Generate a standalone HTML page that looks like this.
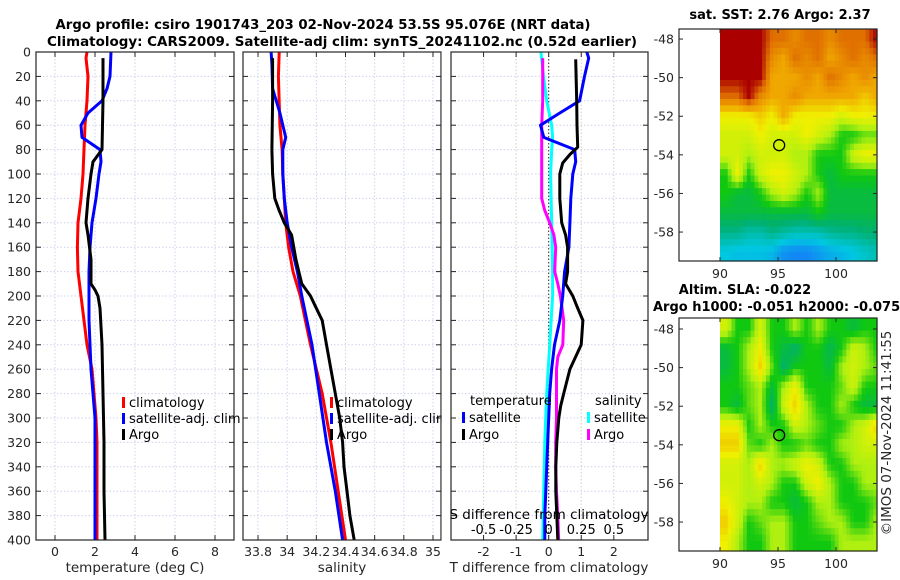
<!DOCTYPE html>
<html><head><meta charset="utf-8"><style>
body{margin:0;background:#fff}
svg{display:block;font-family:"DejaVu Sans","Liberation Sans",sans-serif}
</style></head><body>
<svg id="c" width="900" height="580" viewBox="0 0 900 580"></svg>
<script>
const depthTicks=[0,20,40,60,80,100,120,140,160,180,200,220,240,260,280,300,320,340,360,380,400];
// panel 1 temperature
const tClimD=[0,5,20,40,60,80,100,120,140,160,180,200,220,240,260,280,300,320,340,360,380,400];
const tClim=[1.6,1.55,1.65,1.6,1.5,1.45,1.4,1.3,1.15,1.12,1.15,1.3,1.45,1.6,1.85,1.95,2.05,2.1,2.1,2.1,2.1,2.1];
const tSatD=[0,20,30,40,50,60,70,80,90,100,120,140,160,180,200,220,240,260,280,300,320,340,360,380,400];
const tSat=[2.8,2.75,2.6,2.35,1.65,1.3,1.35,2.25,2.3,2.2,2.05,1.85,1.75,1.7,1.7,1.7,1.75,1.8,1.9,2.0,2.0,2.0,2.0,2.0,2.0];
const tArgoD=[5,40,80,90,100,120,140,150,170,190,195,200,210,240,280,320,360,400];
const tArgo=[2.4,2.4,2.35,1.9,1.8,1.65,1.55,1.65,1.8,1.8,2.0,2.15,2.25,2.35,2.4,2.45,2.45,2.5];
const tTicks=[0,2,4,6,8];
// panel 2 salinity
const sClimD=[0,20,60,80,100,120,140,160,180,200,240,280,320,360,400];
const sClim=[33.945,33.94,33.95,33.965,33.97,33.98,33.99,34.01,34.04,34.09,34.16,34.24,34.3,34.35,34.4];
const sSatD=[0,10,30,50,70,80,100,120,140,160,180,200,240,280,320,360,400];
const sSat=[33.89,33.895,33.9,33.95,33.99,33.97,33.97,33.98,34.0,34.03,34.07,34.1,34.17,34.22,34.27,34.33,34.38];
const sArgoD=[5,40,80,100,120,130,140,150,170,180,190,200,210,220,240,260,280,300,320,340,360,380,400];
const sArgo=[33.9,33.9,33.895,33.9,33.915,33.945,33.98,34.03,34.06,34.08,34.1,34.16,34.2,34.24,34.27,34.3,34.33,34.36,34.38,34.39,34.41,34.43,34.46];
const sTicks=[33.8,34,34.2,34.4,34.6,34.8,35];
const sTickLabels=["33.8","34","34.2","34.4","34.6","34.8","35"];
// panel 3 differences
const dTArgoD=[6,40,60,78,84,91,100,120,140,150,160,180,190,200,210,220,240,260,280,290,300,320,340,360,380,400];
const dTArgo=[0.83,0.86,0.87,0.89,0.65,0.43,0.34,0.34,0.4,0.52,0.58,0.58,0.52,0.74,0.89,1.05,1.0,0.65,0.46,0.37,0.31,0.25,0.22,0.22,0.25,0.28];
const dTSatD=[0,5,20,40,50,60,70,80,90,100,120,140,160,180,200,220,240,260,280,300,320,340,360,380,400];
const dTSat=[1.17,1.23,1.1,0.95,0.34,-0.25,-0.15,0.8,0.83,0.74,0.68,0.65,0.62,0.49,0.43,0.34,0.18,0.09,0.03,0,-0.03,-0.06,-0.09,-0.12,-0.12];
const dSArgoD=[5,40,60,100,120,130,140,150,160,180,190,200,220,240,250,260,280,300,320,340,360,380,400];
const dSArgo=[-0.046,-0.046,-0.054,-0.054,-0.054,-0.03,0.008,0.04,0.054,0.046,0.07,0.09,0.115,0.108,0.07,0.06,0.06,0.06,0.054,0.054,0.06,0.07,0.077];
const dSSatD=[0,20,40,60,70,80,100,140,180,200,240,280,300,320,360,400];
const dSSat=[-0.06,-0.04,-0.015,0.023,0.03,0.023,0.015,0.023,0.03,0.03,0.008,-0.015,-0.023,-0.03,-0.038,-0.046];
const dTTicks=[-2,-1,0,1,2];
const dSTicks=[-0.5,-0.25,0,0.25,0.5];
const dSTickLabels=["-0.5","-0.25","0","0.25","0.5"];
// maps (rows north->south, 1 deg lat centred -48..-59; cols 90..103E)
const sstGrid=[
[8,8,8,8,7,7,6.5,7,7,6.5,7,7,7,8],
[8,8,8,8,6.5,6,7,6.5,7,6,6.5,7,6.5,7],
[8,8,8,8,6,6,6,6.5,6,7,6.5,6,6.5,6],
[7,7,8,6.5,6,6,6.5,6,6,6,6,6,5.5,6],
[5,5,5,5.5,5,6,5,5,5,5,4.5,5,5,5],
[4.5,4.5,4.5,5,4.5,4.5,4.5,5,4.5,4,3,3,3.5,3.5],
[4.5,4.5,4,4.5,4.5,4.5,4,4,3,3,3,4.5,5,5],
[3,5,3,4.5,5,5,4.5,4,3,2.5,3,3,3,3],
[3,2.5,2.5,3,4,4.5,4,3,4,2.5,2.5,2.5,2.5,2.5],
[2.5,2.5,2.5,2.5,2.5,2.5,2.5,2.5,3,2.5,2.5,2.5,2.5,2.5],
[1.8,1.8,1.5,1.5,1.8,1.6,1.4,1.4,1.4,1.7,1.8,1.8,2,2],
[1,0.9,0.9,0.9,0.8,0.4,0.3,0.3,0.5,0.7,0.8,1,1.2,1.4]];
const slaGrid=[
[4.5,3,3,4.5,3,3,4,3,4,3,3,2.5,3,3],
[2.5,3,4,5,3,2.5,2,3,3,2.3,3,4.5,4,3],
[2.5,3,4,5.5,3.5,2,3,3,3,2.5,4,4.5,4,3.5],
[3,3,3.5,4,2.5,4,5,3,3,3,3.5,4.5,3,3],
[3,2.5,3.5,4,2,4.5,5.5,4,3,3,4,3,2.5,2.5],
[5,5,3,4,3,3,4.5,4,3.5,3,3,4,4.5,5.5],
[5.5,5.5,3.5,3,4,3,3,3.5,3,3,4,4,4.5,4.5],
[4.5,4.5,4,5.5,4,4,4.5,5,4.5,3,3,4,4,4],
[4.5,4.5,4,4.5,4,3,3,4.5,5,4,3,3,4,4],
[5,4.5,4,4,3,3,2.5,3,4,4,3,3,3,3.5],
[5.5,4.5,3,3.5,4,4,3,3,3.5,4,4,3,3,4],
[5,4,3,3,4,4,3,3,3,3,4,4,4,4]];
const mapLatTicks=[-48,-50,-52,-54,-56,-58];
const mapLonTicks=[90,95,100];
const argoLon=95.1, argoLat=-53.5;

const NS="http://www.w3.org/2000/svg";
const svg=document.getElementById('c');
function el(tag,at,parent){const e=document.createElementNS(NS,tag);for(const k in at)e.setAttribute(k,at[k]);(parent||svg).appendChild(e);return e;}
function txt(s,x,y,at,parent){const e=el('text',Object.assign({x:x,y:y,'font-size':12,fill:'#262626'},at||{}),parent);e.textContent=s;return e;}
const Y0=52,Y1=540;
const yD=d=>Y0+(Y1-Y0)*d/400;
const GRID='#cdd2ee';

function panel(name,L,R,xmin,xmax){
  const g=el('g',{});
  
  
  return {g,L,R,x:v=>L+(R-L)*(v-xmin)/(xmax-xmin)};
}
function frame(p,ticks,labels,gridColor,withDepthLabels){
  for(const d of depthTicks){
    const y=yD(d);
    const gl=el('line',{x1:p.L,x2:p.R,y1:y,y2:y,stroke:GRID,'stroke-width':1,'stroke-dasharray':'1.5,2'},p.g);
    
    el('line',{x1:p.L,x2:p.L+5,y1:y,y2:y,stroke:'#262626'},p.g);
    el('line',{x1:p.R-5,x2:p.R,y1:y,y2:y,stroke:'#262626'},p.g);
    if(withDepthLabels){const t=txt(String(d),31,y+4.5,{'text-anchor':'end','font-size':12.5},p.g);}
  }
  ticks.forEach((v,i)=>{
    const x=p.x(v);
    const gl=el('line',{x1:x,x2:x,y1:Y0,y2:Y1,stroke:gridColor,'stroke-width':1,'stroke-dasharray':'1.5,2'},p.g);
    
    el('line',{x1:x,x2:x,y1:Y1,y2:Y1-5,stroke:'#262626'},p.g);
    el('line',{x1:x,x2:x,y1:Y0,y2:Y0+5,stroke:'#262626'},p.g);
    const t=txt(labels[i],x,556,{'text-anchor':'middle','font-size':12.5},p.g);
    
  });
}
function box(p){const b=el('rect',{x:p.L,y:Y0,width:p.R-p.L,height:Y1-Y0,fill:'none',stroke:'#262626','stroke-width':1.2},p.g);}
function line(p,ds,vs,color,name,xf){
  const f=xf||p.x;
  const pts=ds.map((d,i)=>f(vs[i]).toFixed(1)+','+yD(d).toFixed(1)).join(' ');
  const e=el('polyline',{points:pts,fill:'none',stroke:color,'stroke-width':3,'stroke-linejoin':'round'},p.g);
  
}
function legendItem(p,x,y,color,label,name){
  const g=el('g',{},p.g);
  
  el('rect',{x:x,y:y-10,width:3,height:11,fill:color},g);
  txt(label,x+7,y,{'font-size':13,fill:'#000'},g);
}

let t=txt('Argo profile: csiro 1901743_203 02-Nov-2024 53.5S 95.076E (NRT data)',323,29,{'text-anchor':'middle','font-weight':'bold','font-size':13.5,fill:'#000',textLength:535,lengthAdjust:'spacingAndGlyphs'});

t=txt('Climatology: CARS2009. Satellite-adj clim: synTS_20241102.nc (0.52d earlier)',342,46,{'text-anchor':'middle','font-weight':'bold','font-size':13.5,fill:'#000',textLength:590,lengthAdjust:'spacingAndGlyphs'});


const p1=panel('temperature-panel',36,234,-0.95,8.95);
frame(p1,tTicks,tTicks.map(String),GRID,true);
line(p1,tClimD,tClim,'#ff0000','temperature-climatology-line');
line(p1,tSatD,tSat,'#0000ff','temperature-satellite-line');
line(p1,tArgoD,tArgo,'#000000','temperature-argo-line');
box(p1);
legendItem(p1,122,407,'#ff0000','climatology','legend-climatology');
legendItem(p1,122,423,'#0000ff','satellite-adj. clim','legend-satellite-adj-clim');
legendItem(p1,122,439,'#000000','Argo','legend-argo');
t=txt('temperature (deg C)',135,572,{'text-anchor':'middle','font-size':13.5});

const p2=panel('salinity-panel',243,441,33.697,35.055);
frame(p2,sTicks,sTickLabels,GRID,false);
line(p2,sClimD,sClim,'#ff0000','salinity-climatology-line');
line(p2,sSatD,sSat,'#0000ff','salinity-satellite-line');
line(p2,sArgoD,sArgo,'#000000','salinity-argo-line');
box(p2);
legendItem(p2,330,407,'#ff0000','climatology','legend-climatology');
legendItem(p2,330,423,'#0000ff','satellite-adj. clim','legend-satellite-adj-clim');
legendItem(p2,330,439,'#000000','Argo','legend-argo');
svg.appendChild(el('rect',{x:441.6,y:52,width:9,height:490,fill:'#fff'}));
t=txt('salinity',342,572,{'text-anchor':'middle','font-size':13.5});

const p3=panel('difference-panel',451,648,-3.0,3.05);
const xs=v=>p3.x(v*4);
frame(p3,dTTicks,dTTicks.map(String),'#dccbbb',false);
const zl=el('line',{x1:p3.x(0),x2:p3.x(0),y1:Y0,y2:Y1,stroke:'#333','stroke-width':1,'stroke-dasharray':'1.5,2'},p3.g);

line(p3,dSSatD,dSSat,'#00ffff','salinity-satellite-diff-line',xs);
line(p3,dSArgoD,dSArgo,'#ff00ff','salinity-argo-diff-line',xs);
line(p3,dTSatD,dTSat,'#0000ff','temperature-satellite-diff-line');
line(p3,dTArgoD,dTArgo,'#000000','temperature-argo-diff-line');
box(p3);
t=txt('temperature',470,405,{'font-size':13,fill:'#000'},p3.g);
t=txt('salinity',595,405,{'font-size':13,fill:'#000'},p3.g);
legendItem(p3,462,422,'#0000ff','satellite','legend-temperature-satellite');
legendItem(p3,462,439,'#000000','Argo','legend-temperature-argo');
legendItem(p3,587,422,'#00ffff','satellite','legend-salinity-satellite');
legendItem(p3,587,439,'#ff00ff','Argo','legend-salinity-argo');
t=txt('S difference from climatology',549,519,{'text-anchor':'middle','font-size':13.5,fill:'#000'},p3.g);
dSTicks.forEach((v,i)=>{const e=txt(dSTickLabels[i],xs(v),534,{'text-anchor':'middle','font-size':13,fill:'#000'},p3.g);});
t=txt('T difference from climatology',549,572,{'text-anchor':'middle','font-size':13.5});

// maps
const stops=[[0,[26,108,255]],[1,[0,200,224]],[2,[0,176,112]],[3,[16,200,16]],[4,[176,240,16]],[5,[240,240,0]],[6,[240,168,0]],[7,[224,112,0]],[8,[170,0,0]]];
function cmap(v){v=Math.max(0,Math.min(8,v));const i=Math.min(7,Math.floor(v));const f=v-i;const a=stops[i][1],b=stops[i+1][1];return 'rgb('+a.map((c,k)=>Math.round(c+(b[k]-c)*f)).join(',')+')';}
function sample(grid,lon,lat){
  let fc=lon-90.5, fr=-48-lat;
  const nr=grid.length,nc=grid[0].length;
  fc=Math.max(0,Math.min(nc-1,fc)); fr=Math.max(0,Math.min(nr-1,fr));
  const c0=Math.floor(fc),r0=Math.floor(fr),c1=Math.min(nc-1,c0+1),r1=Math.min(nr-1,r0+1);
  const a=fc-c0,b=fr-r0;
  return grid[r0][c0]*(1-a)*(1-b)+grid[r0][c1]*a*(1-b)+grid[r1][c0]*(1-a)*b+grid[r1][c1]*a*b;
}
function map(name,top,bottom,latTop,grid,title1,title2){
  const g=el('g',{});
  const L=679,R=877;
  const xl=lon=>720+(lon-90)*11.6;
  const ppd=(bottom-top)/(latTop+59.5);
  const yl=lat=>top+(latTop-lat)*ppd;
  const step=0.33;
  for(let lat=latTop;lat>-59.5;lat-=step){
    for(let lon=90;lon<103.6;lon+=step){
      const x0=xl(lon),x1=Math.min(R,xl(lon+step));
      const y0=yl(lat),y1=Math.min(bottom,yl(lat-step));
      const v=sample(grid,lon+step/2,lat-step/2);
      el('rect',{x:x0.toFixed(1),y:y0.toFixed(1),width:(x1-x0+0.6).toFixed(1),height:(y1-y0+0.6).toFixed(1),fill:cmap(v)},g);
    }
  }
  el('rect',{x:L,y:top,width:R-L,height:bottom-top,fill:'none',stroke:'#262626','stroke-width':1.2},g);
  mapLatTicks.forEach(lat=>{const y=yl(lat);el('line',{x1:L,x2:L+4,y1:y,y2:y,stroke:'#262626'},g);el('line',{x1:R-4,x2:R,y1:y,y2:y,stroke:'#262626'},g);
    const e=txt(String(lat),674,y+4.5,{'text-anchor':'end','font-size':12.5},g);});
  mapLonTicks.forEach(lon=>{const x=xl(lon);el('line',{x1:x,x2:x,y1:bottom,y2:bottom-4,stroke:'#262626'},g);el('line',{x1:x,x2:x,y1:top,y2:top+4,stroke:'#262626'},g);
    const e=txt(String(lon),x,bottom+17,{'text-anchor':'middle','font-size':12.5},g);});
  const m=el('circle',{cx:xl(argoLon),cy:yl(argoLat),r:5.5,fill:'none',stroke:'#000','stroke-width':1.3},g);
  
  let e=txt(title1,title2?745:780,title2?top-24:top-10,{'text-anchor':'middle','font-weight':'bold','font-size':13,fill:'#000'},g);
  if(title2){e=txt(title2,653,top-7,{'font-weight':'bold','font-size':13,fill:'#000'},g);}
}
map('sst-map',29,261,-47.48,sstGrid,'sat. SST: 2.76 Argo: 2.37',null);
map('sla-map',318,551,-47.43,slaGrid,'Altim. SLA: -0.022','Argo h1000: -0.051 h2000: -0.075');
t=txt('©IMOS 07-Nov-2024 11:41:55',0,0,{'text-anchor':'middle','font-size':13.5,transform:'translate(891,433) rotate(-90)'});

</script>
</body></html>
